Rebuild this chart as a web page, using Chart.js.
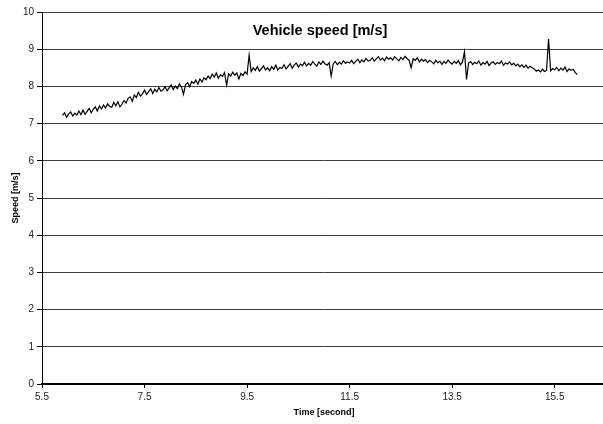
<!DOCTYPE html>
<html>
<head>
<meta charset="utf-8">
<script src="https://cdn.jsdelivr.net/npm/chart.js@4/dist/chart.umd.min.js"></script>
<style>
  html, body { margin: 0; padding: 0; background: #fff; overflow: hidden; }
  #wrap { width: 612px; height: 424px; }
</style>
</head>
<body>
<div id="wrap"><canvas id="c" width="612" height="424"></canvas></div>
<script>
// Logged speed samples, one every 40 ms starting at t = 5.90 s
const startTime = 5.90;
const sampleInterval = 0.04;

const speed = [
  7.22, 7.29, 7.17, 7.26, 7.31, 7.20, 7.28, 7.23, 7.34, 7.24,
  7.36, 7.25, 7.33, 7.41, 7.29, 7.38, 7.45, 7.34, 7.48, 7.39,
  7.50, 7.42, 7.53, 7.46, 7.44, 7.57, 7.48, 7.59, 7.45, 7.52,
  7.62, 7.55, 7.68, 7.72, 7.60, 7.77, 7.70, 7.84, 7.74, 7.80,
  7.90, 7.78, 7.86, 7.94, 7.81, 7.92, 7.85, 7.97, 7.87, 7.91,
  7.99, 7.88, 7.96, 8.04, 7.92, 8.01, 7.94, 8.07, 7.98, 7.79,
  8.05, 8.10, 7.99, 8.13, 8.08, 8.17, 8.06, 8.20, 8.12, 8.23,
  8.18, 8.28, 8.21, 8.33, 8.25, 8.36, 8.22, 8.31, 8.27, 8.37,
  8.03, 8.34, 8.28, 8.38, 8.30, 8.36, 8.20, 8.35, 8.29, 8.39,
  8.33, 8.84, 8.40, 8.50, 8.43, 8.53, 8.41, 8.48, 8.55, 8.44,
  8.50, 8.42, 8.53, 8.46, 8.57, 8.44, 8.51, 8.48, 8.58, 8.47,
  8.54, 8.61, 8.49, 8.58, 8.63, 8.52, 8.60, 8.56, 8.65, 8.55,
  8.62, 8.57, 8.67, 8.60, 8.55, 8.66, 8.59, 8.68, 8.61, 8.57,
  8.64, 8.28, 8.61, 8.67, 8.58, 8.65, 8.60, 8.69, 8.62, 8.66,
  8.63, 8.70, 8.61, 8.68, 8.73, 8.64, 8.71, 8.66, 8.75, 8.68,
  8.70, 8.77, 8.68, 8.74, 8.80, 8.71, 8.76, 8.69, 8.79, 8.73,
  8.77, 8.71, 8.80, 8.74, 8.69, 8.78, 8.72, 8.81, 8.75, 8.70,
  8.50, 8.74, 8.70, 8.77, 8.66, 8.73, 8.68, 8.72, 8.64, 8.70,
  8.66, 8.61, 8.70, 8.63, 8.68, 8.59, 8.67, 8.62, 8.71, 8.64,
  8.60, 8.67, 8.62, 8.69, 8.58, 8.65, 8.93, 8.19, 8.63, 8.67,
  8.59, 8.65, 8.61, 8.68, 8.57, 8.64, 8.60, 8.67, 8.56, 8.63,
  8.66, 8.59, 8.64, 8.61, 8.68, 8.57, 8.63, 8.60, 8.66, 8.58,
  8.62, 8.55, 8.60, 8.53, 8.58, 8.51, 8.57, 8.49, 8.54, 8.50,
  8.47, 8.41, 8.44, 8.39, 8.46, 8.40, 8.43, 9.27, 8.42, 8.48,
  8.45, 8.51, 8.42, 8.49, 8.44, 8.52, 8.40, 8.47, 8.43, 8.46,
  8.37, 8.32
];

const timeTicks = [5.5, 7.5, 9.5, 11.5, 13.5, 15.5];
const speedTicks = [0, 1, 2, 3, 4, 5, 6, 7, 8, 9, 10];

const chartTitle = 'Vehicle speed [m/s]';
const xAxisTitle = 'Time [second]';
const yAxisTitle = 'Speed [m/s]';

const FONT = '"Liberation Sans", Arial, Helvetica, sans-serif';

const points = speed.map((v, i) => ({
  x: +(startTime + i * sampleInterval).toFixed(2),
  y: v
}));

// Title drawn inside the plot area, near the top
const innerTitle = {
  id: 'innerTitle',
  afterDraw(chart) {
    const { ctx, chartArea } = chart;
    ctx.save();
    ctx.font = 'bold 14.5px ' + FONT;
    ctx.fillStyle = '#000';
    ctx.textAlign = 'center';
    ctx.textBaseline = 'middle';
    ctx.fillText(chartTitle, (chartArea.left + chartArea.right) / 2 - 4, chartArea.top + 19);
    ctx.restore();
  }
};

new Chart(document.getElementById('c'), {
  type: 'line',
  data: {
    datasets: [{
      data: points,
      borderColor: '#000',
      borderWidth: 1.2,
      pointRadius: 0,
      tension: 0,
      fill: false
    }]
  },
  options: {
    responsive: false,
    animation: false,
    layout: { padding: { top: 12, right: 6, left: 0, bottom: 0 } },
    plugins: {
      legend: { display: false },
      tooltip: { enabled: false },
      title: { display: false }
    },
    scales: {
      x: {
        type: 'linear',
        min: 5.5,
        max: 16.5,
        afterBuildTicks: s => { s.ticks = timeTicks.map(v => ({ value: v })); },
        afterFit: s => { s.height = 40; },
        ticks: {
          autoSkip: false,
          maxRotation: 0,
          padding: 3,
          color: '#222',
          font: { family: FONT, size: 10 },
          callback: v => Number(v).toFixed(1)
        },
        grid: { drawOnChartArea: false, drawTicks: true, tickLength: 4, color: '#000' },
        border: { display: true, color: '#000', width: 2 },
        title: {
          display: true,
          text: xAxisTitle,
          color: '#000',
          font: { family: FONT, size: 9, weight: 'bold' },
          padding: { top: 2, bottom: 6 }
        }
      },
      y: {
        min: 0,
        max: 10,
        afterBuildTicks: s => { s.ticks = speedTicks.map(v => ({ value: v })); },
        afterFit: s => { s.width = 42; },
        ticks: {
          padding: 3,
          color: '#222',
          font: { family: FONT, size: 10 }
        },
        grid: { color: '#404040', lineWidth: 1, tickLength: 5, tickColor: '#000' },
        border: { display: true, color: '#000', width: 1 },
        title: {
          display: true,
          text: yAxisTitle,
          color: '#000',
          font: { family: FONT, size: 9, weight: 'bold' },
          padding: { top: 10, bottom: 0 }
        }
      }
    }
  },
  plugins: [innerTitle]
});
</script>
</body>
</html>
